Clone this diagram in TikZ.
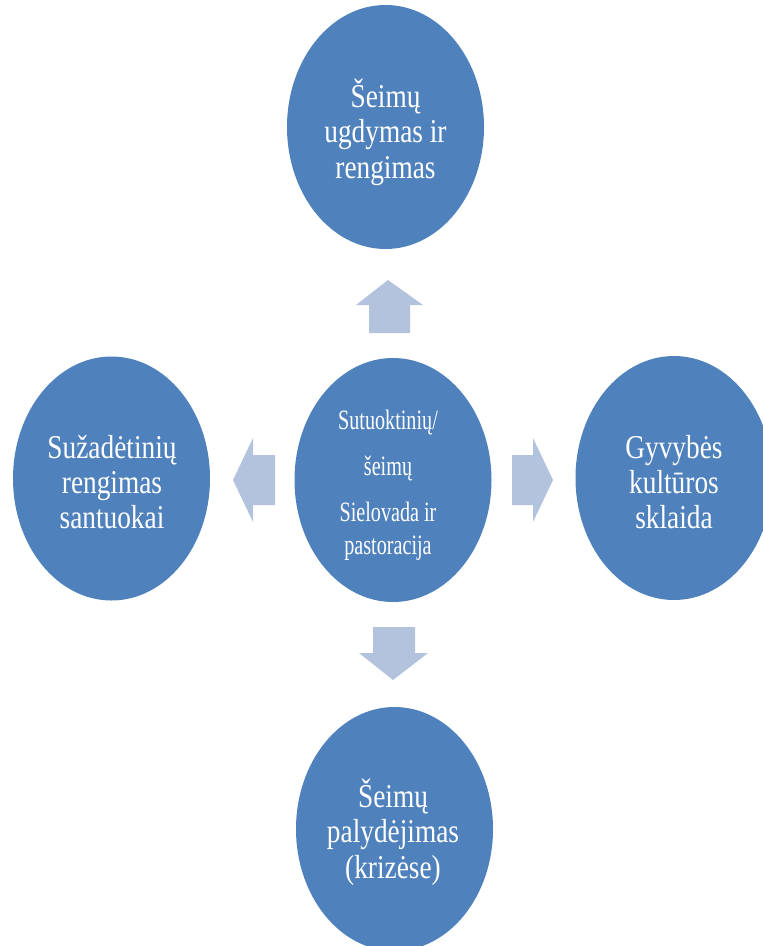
\documentclass[tikz,border=0pt]{standalone}
\usepackage{fontspec}
\usetikzlibrary{shapes.geometric}
\newfontfamily\lblfont[FakeStretch=0.82]{Liberation Serif}
\newfontfamily\ctrfont[FakeStretch=0.72]{Liberation Serif}
\definecolor{ovalblue}{HTML}{4F81BD}
\definecolor{arrowblue}{HTML}{B3C3DE}
\tikzset{
  oval/.style={ellipse, fill=ovalblue, draw=none, minimum width=147.75pt, minimum height=183pt, inner sep=0pt},
  ovaltext/.style={text=white, align=center, font=\lblfont\fontsize{25}{26.5}\selectfont, inner sep=0pt},
  ctrtext/.style={text=white, align=center, font=\ctrfont\fontsize{21}{24.75}\selectfont, inner sep=0pt},
  blockarrow/.style={fill=arrowblue, draw=none}
}
\begin{document}
\begin{tikzpicture}[x=0.75pt, y=-0.75pt]
\useasboundingbox (0,0) rectangle (763,946);
\clip (0,0) rectangle (763,946);
% ovals
\node[oval] (top) at (385.5,127) {};
\node[oval] (left) at (111.5,478.5) {};
\node[oval] (center) at (393,480) {};
\node[oval] (right) at (674,478) {};
\node[oval] (bottom) at (394.5,829) {};
% texts
\node[ovaltext] (toptext) at (385.5,132) {Šeimų\\ugdymas ir\\rengimas};
\node[ovaltext] (lefttext) at (112,482) {Sužadėtinių\\rengimas\\santuokai};
\node[ovaltext] (righttext) at (674,482) {Gyvybės\\kultūros\\sklaida};
\node[ovaltext] (bottomtext) at (393,832) {Šeimų\\palydėjimas\\(krizėse)};
\node[ctrtext] (centertext) at (388,485) {Sutuoktinių/\\[9.75pt]šeimų\\[10pt]Sielovada ir\\pastoracija};
% block arrows
\fill[blockarrow] (388,280) -- (423,305) -- (410,305) -- (410,333) -- (369,333) -- (369,305) -- (356,305) -- cycle;
\fill[blockarrow] (393,680) -- (428,653) -- (415,653) -- (415,627) -- (373,627) -- (373,653) -- (359,653) -- cycle;
\fill[blockarrow] (233,480) -- (253,438) -- (253,455) -- (275,455) -- (275,505) -- (253,505) -- (253,522) -- cycle;
\fill[blockarrow] (553,480) -- (533,438) -- (533,455) -- (512,455) -- (512,505) -- (533,505) -- (533,522) -- cycle;
\end{tikzpicture}
\end{document}
